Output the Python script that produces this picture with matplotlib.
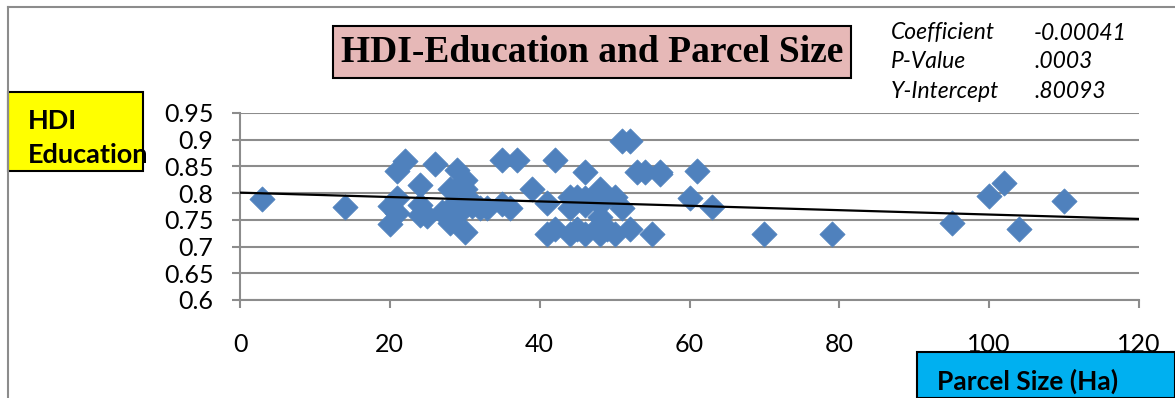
import matplotlib.pyplot as plt
import numpy as np
from matplotlib.patches import Rectangle

# parcel size (Ha) and HDI education index per district
parcel_size = [3, 14, 20, 20, 21, 21, 21, 22, 24, 24, 24, 25, 26, 27, 28, 28, 28.5, 29, 29,
               29.5, 30, 30, 30, 30.5, 31, 32, 33, 35, 35, 36, 37, 39, 41, 41, 42, 42, 44,
               44, 44, 45, 45, 46, 46, 46, 46, 48, 48, 48, 48, 48, 49, 50, 50, 51, 51, 52,
               52, 53, 54, 55, 56, 56, 60, 61, 63, 70, 79, 95, 100, 102, 104, 110]
hdi_education = [0.789, 0.774, 0.742, 0.775, 0.762, 0.790, 0.842, 0.860, 0.815, 0.778,
                 0.760, 0.757, 0.855, 0.765, 0.745, 0.808, 0.780, 0.843, 0.760, 0.770,
                 0.727, 0.825, 0.808, 0.790, 0.775, 0.772, 0.772, 0.862, 0.780, 0.773,
                 0.862, 0.807, 0.782, 0.724, 0.862, 0.733, 0.792, 0.772, 0.724, 0.793,
                 0.733, 0.840, 0.790, 0.778, 0.724, 0.808, 0.780, 0.755, 0.740, 0.724,
                 0.733, 0.793, 0.724, 0.898, 0.772, 0.898, 0.733, 0.840, 0.840, 0.724,
                 0.840, 0.835, 0.790, 0.841, 0.774, 0.723, 0.723, 0.745, 0.794, 0.819,
                 0.733, 0.785]

coefficient = -0.00041
p_value = ".0003"
intercept = 0.80093

x_ticks = [0, 20, 40, 60, 80, 100, 120]
y_ticks = [0.6, 0.65, 0.7, 0.75, 0.8, 0.85, 0.9, 0.95]
y_tick_labels = ["0.6", "0.65", "0.7", "0.75", "0.8", "0.85", "0.9", "0.95"]

sans = "Lato"
W, H = 1175, 398
fig = plt.figure(figsize=(W / 100, H / 100), dpi=100)

# outer frame
fig.add_artist(plt.Line2D([8 / W, 8 / W], [0, 1 - 7 / H], transform=fig.transFigure,
                          color="#8c8c8c", lw=1.5))
fig.add_artist(plt.Line2D([8 / W, 1], [1 - 7 / H, 1 - 7 / H], transform=fig.transFigure,
                          color="#8c8c8c", lw=1.5))

ax = fig.add_axes([240 / W, 1 - 300 / H, (1139 - 240) / W, (300 - 113) / H])
ax.scatter(parcel_size, hdi_education, marker="D", s=165, color="#4F81BD",
           edgecolors="#4F81BD", linewidths=0.5, zorder=3)

# linear trend line
xs = np.array([0, 120])
ax.plot(xs, intercept + coefficient * xs, color="black", lw=1.6, zorder=4)

ax.set_xlim(0, 120)
ax.set_ylim(0.6, 0.95)
ax.set_xticks(x_ticks)
ax.set_yticks(y_ticks)
ax.set_yticklabels(y_tick_labels)
ax.grid(axis="y", color="#8c8c8c", lw=1.5)
ax.set_axisbelow(True)
for s in ["top", "right"]:
    ax.spines[s].set_visible(False)
for s in ["left", "bottom"]:
    ax.spines[s].set_color("#8c8c8c")
    ax.spines[s].set_linewidth(1.5)
ax.tick_params(axis="both", color="#8c8c8c", width=1.5, length=6, labelsize=18)
ax.tick_params(axis="y", pad=13)
ax.tick_params(axis="x", pad=18)
for lab in ax.get_xticklabels() + ax.get_yticklabels():
    lab.set_fontfamily(sans)

# title box
fig.text(592 / W, 1 - 52 / H, "HDI-Education and Parcel Size", ha="center", va="center",
         fontsize=27, fontweight="bold", family="Liberation Serif",
         bbox=dict(boxstyle="square,pad=0.22", facecolor="#E6B8B7", edgecolor="black", lw=1.5))

# regression stats
stats = [("Coefficient", f"{coefficient:.5f}", 33), ("P-Value", p_value, 61),
         ("Y-Intercept", f"{intercept:.5f}".lstrip("0"), 92)]
for name, val, yp in stats:
    fig.text(891 / W, 1 - yp / H, name, ha="left", va="center", fontsize=16.5,
             style="italic", family=sans)
    fig.text(1034 / W, 1 - yp / H, val, ha="left", va="center", fontsize=16.5,
             style="italic", family=sans)

# y-axis label box
fig.add_artist(Rectangle((8 / W, 1 - 171 / H), 135 / W, 79 / H, transform=fig.transFigure,
                         facecolor="#FFFF00", edgecolor="black", lw=1.5))
fig.text(28 / W, 1 - 121 / H, "HDI", ha="left", va="center", fontsize=19.5,
         fontweight="bold", family=sans)
fig.text(28 / W, 1 - 155 / H, "Education", ha="left", va="center", fontsize=19.5,
         fontweight="bold", family=sans)

# x-axis label box
fig.add_artist(Rectangle((917 / W, 0), (W - 917) / W, (398 - 352) / H, transform=fig.transFigure,
                         facecolor="#00B0F0", edgecolor="black", lw=1.5, zorder=5))
fig.text(937 / W, 1 - 381 / H, "Parcel Size (Ha)", ha="left", va="center", fontsize=19,
         fontweight="bold", family=sans, zorder=6)

fig.savefig("out.png", dpi=100)
